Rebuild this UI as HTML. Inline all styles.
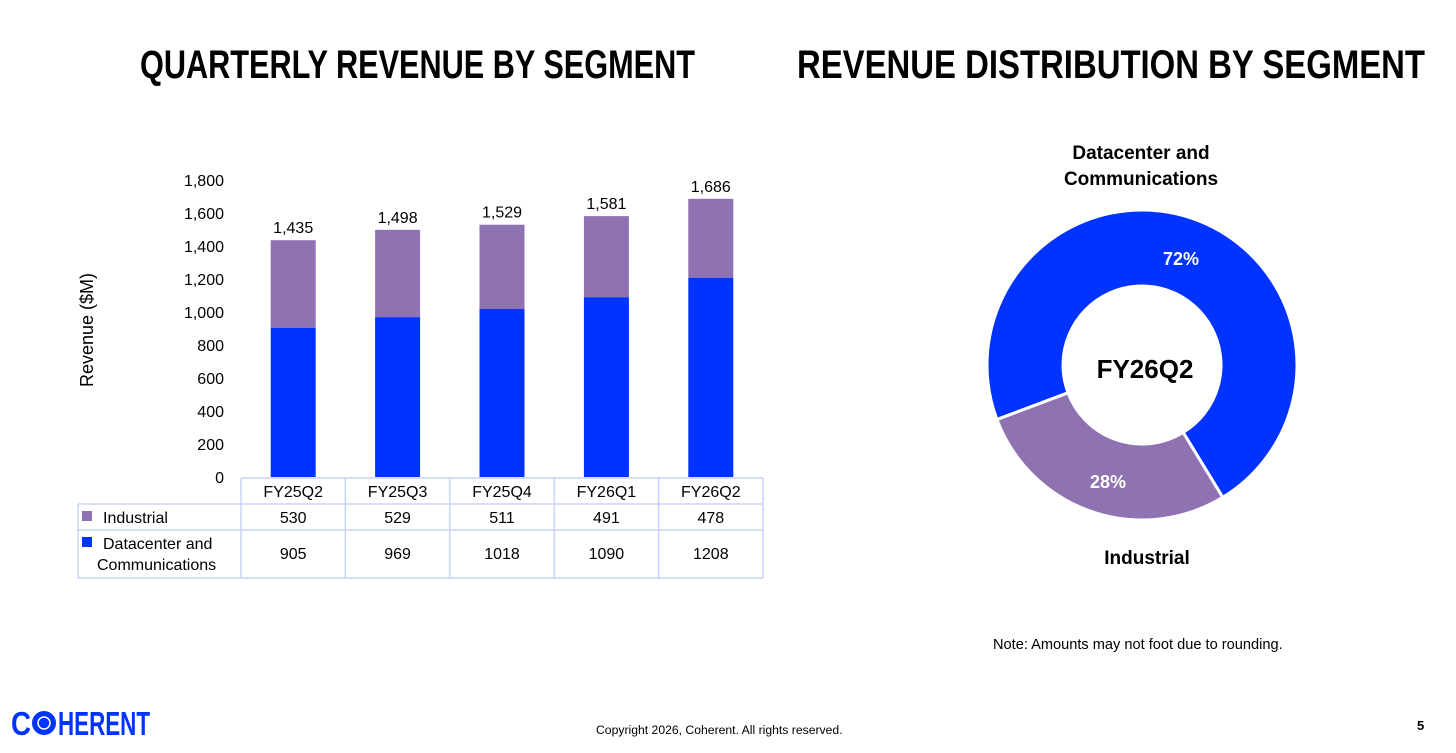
<!DOCTYPE html>
<html><head><meta charset="utf-8"><style>
body{margin:0;width:1456px;height:753px;background:#fff;overflow:hidden;font-family:"Liberation Sans",sans-serif;}
</style></head><body>
<svg width="1456" height="100" style="position:absolute;left:0;top:0" font-family="Liberation Sans, sans-serif" font-weight="bold">
<text x="140" y="78" font-size="40" textLength="555" lengthAdjust="spacingAndGlyphs">QUARTERLY REVENUE BY SEGMENT</text>
<text x="797" y="78" font-size="40" textLength="628" lengthAdjust="spacingAndGlyphs">REVENUE DISTRIBUTION BY SEGMENT</text>
</svg>
<svg id="bar" width="800" height="600" style="position:absolute;left:0;top:0" font-family="Liberation Sans, sans-serif"></svg>
<svg id="donut" width="1456" height="753" style="position:absolute;left:0;top:0" font-family="Liberation Sans, sans-serif"></svg>
<div style="position:absolute;left:993px;top:637px;font-size:14.6px">Note: Amounts may not foot due to rounding.</div>
<div style="position:absolute;left:596px;top:723px;font-size:12.2px">Copyright 2026, Coherent. All rights reserved.</div>
<div style="position:absolute;left:1417px;top:718px;font-size:13px;font-weight:bold">5</div>
<svg width="160" height="50" style="position:absolute;left:0;top:700px" font-family="Liberation Sans, sans-serif" font-weight="bold">
<text x="11" y="35" font-size="33" fill="#0033ff" textLength="20" lengthAdjust="spacingAndGlyphs">C</text>
<circle cx="44" cy="23" r="12" fill="#0033ff"/>
<circle cx="44" cy="23" r="6" fill="none" stroke="#fff" stroke-width="1.5"/>
<text x="58" y="35" font-size="33" fill="#0033ff" textLength="92" lengthAdjust="spacingAndGlyphs">HERENT</text>
</svg>
<script>
const categories=["FY25Q2","FY25Q3","FY25Q4","FY26Q1","FY26Q2"];
const industrial=[530,529,511,491,478];
const datacenter=[905,969,1018,1090,1208];
const totals=["1,435","1,498","1,529","1,581","1,686"];
const yTicks=[0,200,400,600,800,1000,1200,1400,1600,1800];
const shareLabels=["Datacenter and Communications","Industrial"];
const shares=[72,28];
const NS="http://www.w3.org/2000/svg";
function mk(p,tag,at,txt){const e=document.createElementNS(NS,tag);for(const k in at)e.setAttribute(k,at[k]);if(txt!=null)e.textContent=txt;p.appendChild(e);return e;}
const bar=document.getElementById('bar');
const y0=477,ppu=297/1800;
const yS=v=>y0-v*ppu;
const colL=241,colW=104.4;
const xC=i=>colL+colW*(i+0.5);
yTicks.forEach(v=>{const t=mk(bar,'text',{x:224,y:yS(v)+6,'text-anchor':'end','font-size':16},v.toLocaleString('en-US'));

});
const yt=mk(bar,'text',{x:0,y:0,transform:'translate(93,330) rotate(-90)','text-anchor':'middle','font-size':18},'Revenue ($M)');


categories.forEach((c,i)=>{const x=xC(i)-22.5;
const b1=mk(bar,'rect',{x:x,y:yS(datacenter[i]),width:45,height:datacenter[i]*ppu,fill:'#0033ff'});


const b2=mk(bar,'rect',{x:x,y:yS(datacenter[i]+industrial[i]),width:45,height:industrial[i]*ppu,fill:'#8e72b2'});


const tl=mk(bar,'text',{x:xC(i),y:yS(datacenter[i]+industrial[i])-7,'text-anchor':'middle','font-size':16},totals[i]);


const h=mk(bar,'text',{x:xC(i),y:497,'text-anchor':'middle','font-size':16},c);


const r1=mk(bar,'text',{x:xC(i),y:523,'text-anchor':'middle','font-size':16},industrial[i]);


const r2=mk(bar,'text',{x:xC(i),y:559,'text-anchor':'middle','font-size':16},datacenter[i]);

});
const g=mk(bar,'g',{stroke:'#c9d3f5','stroke-width':1.5,fill:'none'});


const colR=colL+colW*categories.length;
mk(g,'line',{x1:colL,y1:478,x2:colR,y2:478});
mk(g,'line',{x1:78,y1:504,x2:colR,y2:504});
mk(g,'line',{x1:78,y1:530,x2:colR,y2:530});
mk(g,'line',{x1:78,y1:578,x2:colR,y2:578});
mk(g,'line',{x1:78,y1:504,x2:78,y2:578});
for(let i=0;i<=categories.length;i++)mk(g,'line',{x1:colL+colW*i,y1:478,x2:colL+colW*i,y2:578});
mk(bar,'rect',{x:82,y:511,width:10,height:10,fill:'#8e72b2'});
mk(bar,'rect',{x:82,y:537,width:10,height:10,fill:'#0033ff'});
const l1=mk(bar,'text',{x:103,y:523,'font-size':16},'Industrial');


const l2=mk(bar,'text',{x:103,y:549,'font-size':16},'Datacenter and');


mk(bar,'text',{x:97,y:570,'font-size':16},'Communications');
const d=document.getElementById('donut');
const cx=1142,cy=365,R=155,r=79;
const start=249.4;
const cols=['#0033ff','#8e72b2'];
let a=start;
function pt(rad,deg){const t=deg*Math.PI/180;return [cx+rad*Math.sin(t),cy-rad*Math.cos(t)];}
shares.forEach((s,i)=>{const a1=a+s*3.6;const lg=s>50?1:0;
const p0=pt(R,a),p1=pt(R,a1),p2=pt(r,a1),p3=pt(r,a);
const p=mk(d,'path',{d:`M${p0}A${R},${R} 0 ${lg} 1 ${p1}L${p2}A${r},${r} 0 ${lg} 0 ${p3}Z`,fill:cols[i],stroke:'#fff','stroke-width':3});


a=a1;});
const lab=[[1181,265],[1108,488]];
shares.forEach((s,i)=>{const t=mk(d,'text',{x:lab[i][0],y:lab[i][1],'text-anchor':'middle','font-size':18,'font-weight':'bold',fill:'#fff'},s+'%');

});
const c=mk(d,'text',{x:1145,y:378,'text-anchor':'middle','font-size':26,'font-weight':'bold'},'FY26Q2');


const s1=mk(d,'text',{x:1141,y:159,'text-anchor':'middle','font-size':19,'font-weight':'bold'},'Datacenter and');


mk(d,'text',{x:1141,y:185,'text-anchor':'middle','font-size':19,'font-weight':'bold'},'Communications');
const s2=mk(d,'text',{x:1147,y:564,'text-anchor':'middle','font-size':19,'font-weight':'bold'},shareLabels[1]);


</script>
</body></html>
